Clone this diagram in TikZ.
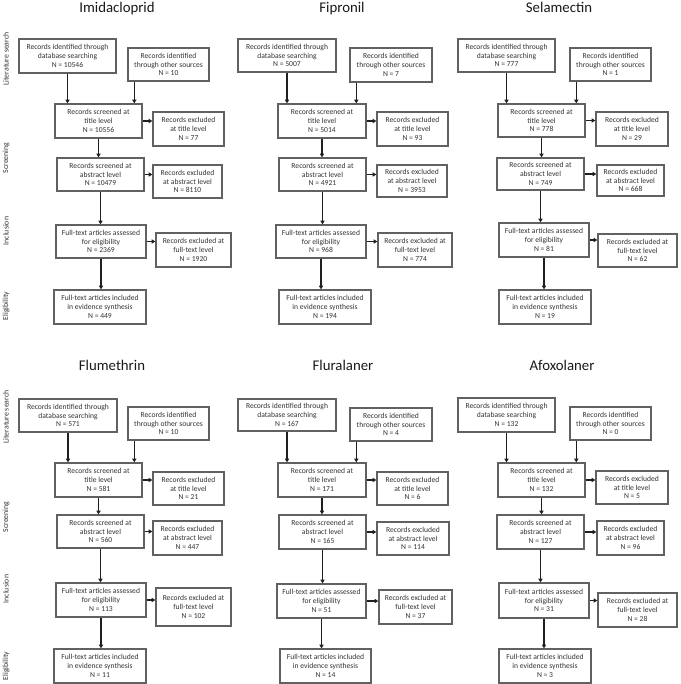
\documentclass[tikz,border=0pt]{standalone}
\usepackage{fontspec}
\setmainfont{Carlito}
\usetikzlibrary{arrows.meta}
\newcommand\bx[6]{\node[box,minimum width=#4pt,minimum height=#5pt] (#1) at (#2,#3) {#6};}
\tikzset{
  box/.style={draw=black!62, line width=1.4pt, fill=white, align=center, inner sep=0pt,
    font=\fontsize{7.6}{8.8}\selectfont, text=black!80},
  arr/.style={draw=black!88, line width=1.2pt, -{Triangle[length=3.6pt,width=4.2pt]}},
  ttl/.style={anchor=base, font=\fontsize{14.8}{18}\selectfont, text=black!90, inner sep=0pt},
  side/.style={rotate=90, font=\fontsize{7.8}{9}\selectfont, text=black!80, inner sep=0pt}
}
\begin{document}
\begin{tikzpicture}[x=1pt,y=-1pt]
\useasboundingbox (0,0) rectangle (680,684);
% side labels
\node[side] (s1) at (6,59) {Literature search};
\node[side] (s2) at (6,158) {Screening};
\node[side] (s3) at (6,231) {Inclusion};
\node[side] (s4) at (6,306) {Eligibility};
\node[side] (s5) at (6,417) {Literature search};
\node[side] (s6) at (6,517) {Screening};
\node[side] (s7) at (6,589) {Inclusion};
\node[side] (s8) at (6,666) {Eligibility};

% ---------- Panel 1: Imidacloprid
\node[ttl] (t1) at (117,12.5) {Imidacloprid};
\bx{a1}{67.5}{56}{97}{34}{Records identified through\\database searching\\N = 10546}
\bx{b1}{168.5}{64.5}{81}{33}{Records identified\\through other sources\\N = 10}
\bx{c1}{98.5}{121}{87}{34}{Records screened at\\title level\\N = 10556}
\bx{d1}{188.5}{129}{71}{34}{Records excluded\\at title level\\N = 77}
\bx{e1}{100.5}{174.5}{87}{33}{Records screened at\\abstract level\\N = 10479}
\bx{f1}{187.5}{181.5}{69}{33}{Records excluded\\at abstract level\\N = 8110}
\bx{g1}{101}{241.5}{90}{33}{Full-text articles assessed\\for eligibility\\N = 2369}
\bx{h1}{193.5}{250}{75}{34}{Records excluded at\\full-text level\\N = 1920}
\bx{i1}{100}{307}{92}{34}{Full-text articles included\\in evidence synthesis\\N = 449}

% ---------- Panel 2: Fipronil
\node[ttl] (t2) at (342,12.5) {Fipronil};
\bx{a2}{287}{55.5}{98}{33}{Records identified through\\database searching\\N = 5007}
\bx{b2}{391}{65}{82}{34}{Records identified\\through other sources\\N = 7}
\bx{c2}{322}{121}{88}{34}{Records screened at\\title level\\N = 5014}
\bx{d2}{412.5}{129}{71}{34}{Records excluded\\at title level\\N = 93}
\bx{e2}{322.5}{174.5}{87}{33}{Records screened at\\abstract level\\N = 4921}
\bx{f2}{412}{181}{70}{32}{Records excluded\\at abstract level\\N = 3953}
\bx{g2}{321}{241.5}{90}{33}{Full-text articles assessed\\for eligibility\\N = 968}
\bx{h2}{415}{250}{74}{34}{Records excluded at\\full-text level\\N = 774}
\bx{i2}{325}{307}{92}{34}{Full-text articles included\\in evidence synthesis\\N = 194}

% ---------- Panel 3: Selamectin
\node[ttl] (t3) at (559,12.5) {Selamectin};
\bx{a3}{506.5}{55.5}{97}{33}{Records identified through\\database searching\\N = 777}
\bx{b3}{610.5}{64.5}{81}{33}{Records identified\\through other sources\\N = 1}
\bx{c3}{541.5}{120.5}{87}{33}{Records screened at\\title level\\N = 778}
\bx{d3}{632}{129}{72}{34}{Records excluded\\at title level\\N = 29}
\bx{e3}{540.5}{174}{87}{32}{Records screened at\\abstract level\\N = 749}
\bx{f3}{630.5}{180.5}{67}{31}{Records excluded\\at abstract level\\N = 668}
\bx{g3}{544}{240}{90}{34}{Full-text articles assessed\\for eligibility\\N = 81}
\bx{h3}{637.5}{250.5}{79}{33}{Records excluded at\\full-text level\\N = 62}
\bx{i3}{545}{307}{92}{34}{Full-text articles included\\in evidence synthesis\\N = 19}

% ---------- Panel 4: Flumethrin
\node[ttl] (t4) at (112,370.5) {Flumethrin};
\bx{a4}{68}{415.5}{98}{33}{Records identified through\\database searching\\N = 571}
\bx{b4}{168.5}{423.5}{81}{33}{Records identified\\through other sources\\N = 10}
\bx{c4}{98.5}{480}{87}{34}{Records screened at\\title level\\N = 581}
\bx{d4}{188.5}{488.5}{71}{33}{Records excluded\\at title level\\N = 21}
\bx{e4}{100.5}{531.5}{87}{33}{Records screened at\\abstract level\\N = 560}
\bx{f4}{187.5}{538}{69}{34}{Records excluded\\at abstract level\\N = 447}
\bx{g4}{101}{600}{90}{34}{Full-text articles assessed\\for eligibility\\N = 113}
\bx{h4}{193.5}{607}{75}{38}{Records excluded at\\full-text level\\N = 102}
\bx{i4}{100}{666}{92}{34}{Full-text articles included\\in evidence synthesis\\N = 11}

% ---------- Panel 5: Fluralaner
\node[ttl] (t5) at (343,370.5) {Fluralaner};
\bx{a5}{287}{415}{98}{32}{Records identified through\\database searching\\N = 167}
\bx{b5}{391}{424.5}{82}{33}{Records identified\\through other sources\\N = 4}
\bx{c5}{322}{480}{88}{34}{Records screened at\\title level\\N = 171}
\bx{d5}{412.5}{488.5}{71}{33}{Records excluded\\at title level\\N = 6}
\bx{e5}{322.5}{532}{87}{34}{Records screened at\\abstract level\\N = 165}
\bx{f5}{413}{538.5}{72}{33}{Records excluded\\at abstract level\\N = 114}
\bx{g5}{321.5}{601}{89}{34}{Full-text articles assessed\\for eligibility\\N = 51}
\bx{h5}{415.5}{607}{73}{34}{Records excluded at\\full-text level\\N = 37}
\bx{i5}{325.5}{666}{91}{34}{Full-text articles included\\in evidence synthesis\\N = 14}

% ---------- Panel 6: Afoxolaner
\node[ttl] (t6) at (562,370.5) {Afoxolaner};
\bx{a6}{506.5}{415}{97}{34}{Records identified through\\database searching\\N = 132}
\bx{b6}{610.5}{423.5}{81}{33}{Records identified\\through other sources\\N = 0}
\bx{c6}{541.5}{480}{87}{34}{Records screened at\\title level\\N = 132}
\bx{d6}{632}{487.5}{72}{33}{Records excluded\\at title level\\N = 5}
\bx{e6}{540.5}{532}{87}{34}{Records screened at\\abstract level\\N = 127}
\bx{f6}{630.5}{538}{67}{34}{Records excluded\\at abstract level\\N = 96}
\bx{g6}{544}{600.5}{90}{35}{Full-text articles assessed\\for eligibility\\N = 31}
\bx{h6}{637.5}{610}{79}{34}{Records excluded at\\full-text level\\N = 28}
\bx{i6}{545}{666}{92}{34}{Full-text articles included\\in evidence synthesis\\N = 3}

% ---------- connectors
\foreach \p in {1,...,6}{
  \draw[arr] (a\p.south) -- (a\p.south |- c\p.north);
  \draw[arr] ([xshift=7pt]b\p.south west) -- ([xshift=7pt]b\p.south west |- c\p.north);
  \draw[arr] (c\p.east) -- (c\p.east -| d\p.west);
  \draw[arr] (c\p.south) -- (c\p.south |- e\p.north);
  \draw[arr] (e\p.east) -- (e\p.east -| f\p.west);
  \draw[arr] (e\p.south) -- (e\p.south |- g\p.north);
  \draw[arr] (g\p.east) -- (g\p.east -| h\p.west);
  \draw[arr] (g\p.south) -- (g\p.south |- i\p.north);
}
\end{tikzpicture}
\end{document}
